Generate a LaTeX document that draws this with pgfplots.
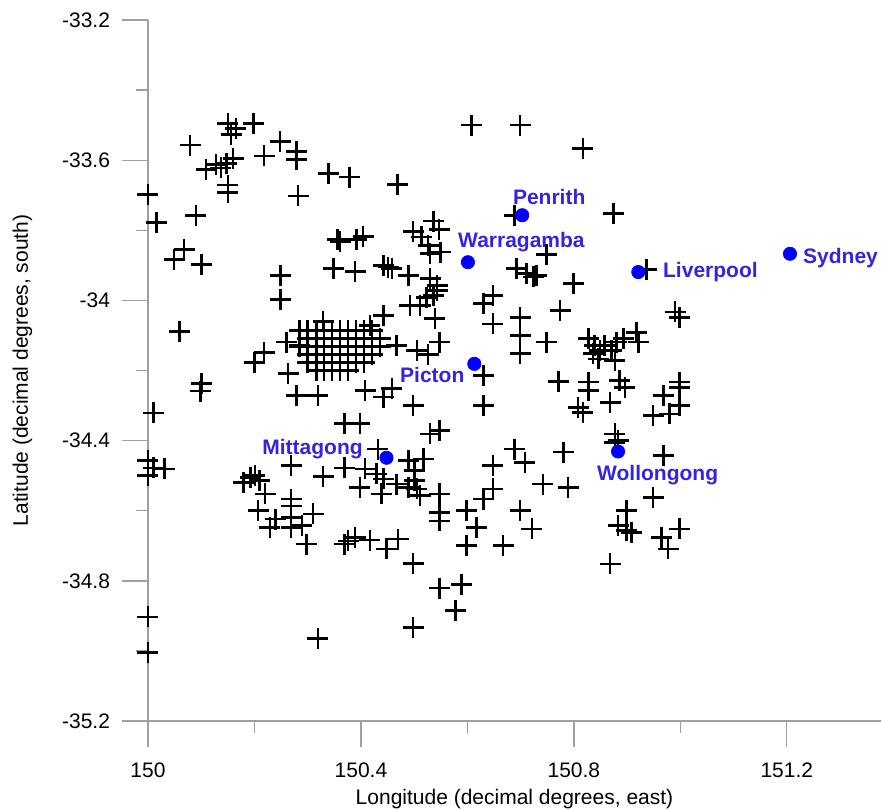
\documentclass[border=0pt]{standalone}
\usepackage{pgfplots}
\pgfplotsset{compat=1.18}
\usepackage{pgfplotstable}
\usepackage{fontspec}
\setmainfont{Liberation Sans}
\definecolor{axgray}{RGB}{160,160,160}
\definecolor{citydot}{RGB}{0,0,255}
\definecolor{citytxt}{RGB}{52,36,222}

\pgfplotstableread{
lon lat
150.150 -33.495
150.165 -33.509
150.156 -33.527
150.198 -33.495
150.079 -33.557
150.248 -33.546
150.218 -33.588
150.279 -33.576
150.279 -33.598
150.109 -33.627
150.128 -33.612
150.137 -33.622
150.148 -33.609
150.160 -33.595
150.150 -33.671
150.150 -33.692
150.339 -33.638
150.379 -33.648
150.000 -33.698
150.282 -33.702
150.016 -33.778
150.090 -33.757
150.068 -33.854
150.049 -33.883
150.100 -33.898
150.356 -33.827
150.361 -33.833
150.392 -33.827
150.404 -33.817
150.349 -33.909
150.389 -33.917
150.249 -33.929
150.249 -33.998
150.329 -34.060
150.059 -34.089
150.218 -34.148
150.200 -34.178
150.260 -34.119
150.285 -34.129
150.263 -34.209
150.101 -34.237
150.608 -33.500
150.699 -33.500
150.469 -33.669
150.689 -33.757
150.498 -33.803
150.514 -33.819
150.536 -33.774
150.547 -33.797
150.526 -33.843
150.530 -33.867
150.550 -33.862
150.442 -33.900
150.451 -33.905
150.458 -33.909
150.489 -33.929
150.530 -33.938
150.543 -33.957
150.543 -33.971
150.536 -33.986
150.523 -33.991
150.492 -34.014
150.511 -34.014
150.539 -34.052
150.442 -34.043
150.417 -34.071
150.648 -33.986
150.630 -34.009
150.648 -34.067
150.699 -34.048
150.699 -34.100
150.699 -34.152
150.749 -34.119
150.774 -34.029
150.692 -33.909
150.711 -33.924
150.724 -33.933
150.730 -33.929
150.749 -33.869
150.467 -34.129
150.505 -34.143
150.548 -34.119
150.526 -34.155
150.630 -34.214
150.771 -34.231
150.817 -33.567
150.874 -33.752
150.937 -33.911
150.799 -33.952
150.990 -34.033
150.999 -34.048
150.827 -34.109
150.839 -34.129
150.849 -34.143
150.858 -34.129
150.871 -34.143
150.880 -34.119
150.893 -34.109
150.918 -34.091
150.921 -34.119
150.846 -34.167
150.877 -34.171
150.836 -34.152
150.886 -34.229
150.827 -34.233
150.999 -34.233
150.099 -34.259
150.010 -34.321
150.279 -34.271
150.319 -34.271
150.369 -34.352
150.000 -34.457
150.000 -34.500
150.010 -34.478
150.031 -34.481
150.269 -34.471
150.329 -34.503
150.369 -34.478
150.179 -34.519
150.192 -34.505
150.201 -34.500
150.210 -34.514
150.220 -34.552
150.207 -34.600
150.229 -34.648
150.239 -34.624
150.269 -34.567
150.269 -34.586
150.269 -34.619
150.269 -34.648
150.289 -34.643
150.310 -34.609
150.298 -34.695
150.369 -34.695
150.376 -34.686
150.000 -34.903
150.000 -35.005
150.319 -34.964
150.408 -34.257
150.442 -34.276
150.458 -34.252
150.498 -34.300
150.630 -34.300
150.398 -34.351
150.530 -34.381
150.548 -34.371
150.432 -34.424
150.489 -34.457
150.517 -34.452
150.501 -34.486
150.408 -34.481
150.429 -34.495
150.442 -34.509
150.398 -34.533
150.439 -34.552
150.467 -34.524
150.489 -34.533
150.505 -34.538
150.511 -34.557
150.501 -34.514
150.548 -34.552
150.548 -34.605
150.548 -34.629
150.598 -34.600
150.648 -34.471
150.689 -34.424
150.708 -34.462
150.648 -34.538
150.630 -34.567
150.742 -34.524
150.780 -34.433
150.789 -34.533
150.699 -34.600
150.721 -34.652
150.617 -34.648
150.598 -34.700
150.667 -34.700
150.389 -34.676
150.417 -34.684
150.448 -34.709
150.470 -34.681
150.498 -34.751
150.548 -34.821
150.589 -34.811
150.578 -34.884
150.498 -34.933
150.827 -34.257
150.808 -34.305
150.817 -34.319
150.896 -34.248
150.868 -34.291
150.968 -34.271
150.999 -34.248
150.999 -34.300
150.949 -34.329
150.980 -34.324
150.877 -34.381
150.877 -34.405
150.883 -34.400
150.968 -34.443
150.949 -34.562
150.899 -34.600
150.883 -34.643
150.899 -34.657
150.908 -34.662
150.999 -34.652
150.965 -34.676
150.977 -34.709
150.868 -34.752
}\sites

\pgfplotstableread{
lon lat
150.285 -34.086
150.300 -34.086
150.316 -34.086
150.331 -34.086
150.346 -34.086
150.361 -34.086
150.376 -34.086
150.391 -34.086
150.406 -34.086
150.421 -34.086
150.300 -34.109
150.316 -34.109
150.331 -34.109
150.346 -34.109
150.361 -34.109
150.376 -34.109
150.391 -34.109
150.406 -34.109
150.421 -34.109
150.436 -34.109
150.285 -34.131
150.300 -34.131
150.316 -34.131
150.331 -34.131
150.346 -34.131
150.361 -34.131
150.376 -34.131
150.391 -34.131
150.406 -34.131
150.421 -34.131
150.436 -34.131
150.300 -34.154
150.316 -34.154
150.331 -34.154
150.346 -34.154
150.361 -34.154
150.376 -34.154
150.391 -34.154
150.406 -34.154
150.421 -34.154
150.300 -34.177
150.316 -34.177
150.331 -34.177
150.346 -34.177
150.361 -34.177
150.376 -34.177
150.391 -34.177
150.406 -34.177
150.316 -34.200
150.331 -34.200
150.346 -34.200
150.361 -34.200
150.376 -34.200
}\cluster

\pgfplotstableread{
lon lat
150.703 -33.757
150.601 -33.891
150.921 -33.919
151.206 -33.867
150.613 -34.181
150.448 -34.449
150.883 -34.431
}\cities

\begin{document}
\begin{tikzpicture}
\begin{axis}[
  scale only axis, width=366.5pt, height=350.5pt,
  xmin=150, xmax=151.377, ymin=-35.2, ymax=-33.2,
  axis x line=bottom, axis y line=left,
  axis line style={axgray, line width=0.7pt, -},
  xtick={150,150.4,150.8,151.2},
  xticklabels={150,150.4,150.8,151.2},
  ytick={-35.2,-34.8,-34.4,-34,-33.6,-33.2},
  yticklabels={-35.2,-34.8,-34.4,-34,-33.6,-33.2},
  minor x tick num=1, minor y tick num=1,
  tick align=outside,
  major tick length=13pt, minor tick length=6pt,
  tick style={axgray, line width=0.7pt},
  ticklabel style={font=\fontsize{10.5}{12}\selectfont},
  xticklabel style={yshift=-4.5pt},
  yticklabel style={xshift=-2.5pt},
  label style={font=\fontsize{10.5}{12}\selectfont},
  xlabel={Longitude (decimal degrees, east)},
  ylabel={Latitude (decimal degrees, south)},
  xlabel style={yshift=1pt},
  ylabel style={yshift=8pt},
  clip=false,
]
\addplot[only marks, mark=+, mark size=5.25pt, line width=1.3pt, black] table[x=lon,y=lat] {\sites};
\addplot[only marks, mark=+, mark size=5.25pt, line width=1.3pt, black] table[x=lon,y=lat] {\cluster};
\addplot[only marks, mark=*, mark size=3.3pt, citydot, draw=none, fill=citydot] table[x=lon,y=lat] {\cities};
\begin{scope}[every node/.style={font=\bfseries\fontsize{10.5}{12}\selectfont, text=citytxt, inner sep=0pt}]
\node[anchor=base west] at (axis cs:150.685,-33.726) {Penrith};
\node[anchor=base west] at (axis cs:150.582,-33.849) {Warragamba};
\node[anchor=base west] at (axis cs:150.967,-33.934) {Liverpool};
\node[anchor=base west] at (axis cs:151.230,-33.894) {Sydney};
\node[anchor=base east] at (axis cs:150.595,-34.234) {Picton};
\node[anchor=base east] at (axis cs:150.404,-34.440) {Mittagong};
\node[anchor=base west] at (axis cs:150.843,-34.514) {Wollongong};
\end{scope}
\end{axis}
\pgfresetboundingbox
\path[use as bounding box] ([xshift=-74pt,yshift=-44pt]current axis.south west) rectangle ([yshift=10pt]current axis.north east);
\end{tikzpicture}
\end{document}
